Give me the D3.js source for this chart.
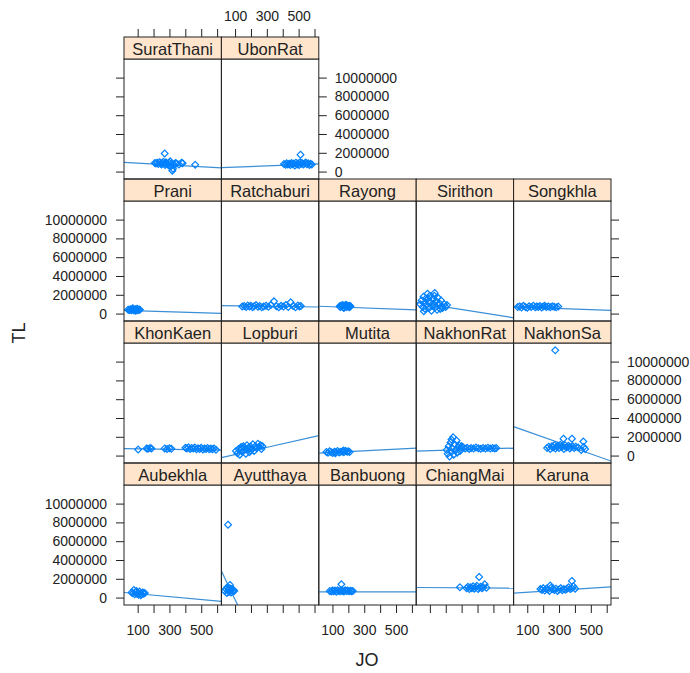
<!DOCTYPE html>
<html><head><meta charset="utf-8">
<script src="https://cdn.jsdelivr.net/npm/d3@7"></script>
<style>body{margin:0;background:#fff}text{font-family:Arial,"Liberation Sans",sans-serif;fill:#222}</style>
</head><body><svg id="c" width="690" height="673"></svg>
<script>
// Panel order (lattice layout, bottom row first)
const panelNames = ["Aubekhla","Ayutthaya","Banbuong","ChiangMai","Karuna",
  "KhonKaen","Lopburi","Mutita","NakhonRat","NakhonSa",
  "Prani","Ratchaburi","Rayong","Sirithon","Songkhla",
  "SuratThani","UbonRat"];
const xTicks = [100,200,300,400,500,600];
const xTickLabels = ["100","","300","","500",""];
const yTicks = [0,2000000,4000000,6000000,8000000,10000000];
const yTickLabels = ["0","2000000","4000000","6000000","8000000","10000000"];
const xLimits = [14, 627];
const yLimits = [-790000, 11980000];

// [JO, TL] points per panel
const SuratThani = [[208,900000],[215,850000],[222,950000],[230,800000],[238,1000000],[245,870000],[250,760000],[256,920000],[262,1050000],[268,820000],[273,700000],[278,980000],[283,880000],[290,780000],[296,640000],[300,920000],[305,1100000],[310,560000],[316,830000],[318,100000],[322,300000],[330,700000],[338,900000],[345,850000],[360,760000],[376,950000],[383,880000],[462,720000],[270,1920000]];
const UbonRat = [[408,800000],[418,720000],[425,880000],[432,760000],[440,820000],[448,700000],[455,900000],[462,780000],[470,850000],[476,640000],[483,950000],[490,760000],[497,870000],[503,700000],[510,1000000],[516,820000],[522,900000],[530,740000],[538,860000],[545,960000],[552,780000],[560,880000],[568,700000],[575,820000],[583,760000],[512,1800000]];
const Prani = [[40,420000],[48,380000],[55,460000],[60,350000],[66,500000],[72,410000],[78,330000],[84,470000],[90,400000],[96,520000],[102,360000],[108,440000],[114,400000],[70,560000],[88,300000]];
const Ratchaburi = [[145,760000],[158,800000],[170,700000],[180,850000],[190,740000],[200,820000],[210,680000],[220,780000],[232,900000],[244,720000],[255,800000],[268,660000],[280,760000],[295,840000],[310,720000],[325,900000],[345,1300000],[360,780000],[375,680000],[390,820000],[405,740000],[420,900000],[435,700000],[450,1200000],[465,800000],[480,660000],[495,860000],[505,740000],[514,800000]];
const Rayong = [[145,780000],[150,700000],[155,860000],[160,740000],[165,900000],[170,650000],[175,820000],[180,760000],[185,940000],[190,700000],[195,840000],[200,780000],[205,680000],[210,820000],[213,760000],[172,600000],[188,880000]];
const Sirithon = [[40,1000000],[48,1400000],[55,700000],[60,1800000],[65,1100000],[70,500000],[75,1600000],[80,900000],[85,2100000],[90,1300000],[95,600000],[100,1900000],[105,1200000],[110,300000],[115,800000],[120,1500000],[125,1000000],[130,2200000],[135,700000],[140,1300000],[145,400000],[150,1700000],[155,900000],[160,1100000],[165,500000],[170,1400000],[175,800000],[180,600000],[190,1000000],[200,700000],[208,900000],[62,250000],[88,1600000],[128,1900000]];
const Songkhla = [[40,700000],[52,760000],[64,640000],[76,820000],[88,700000],[100,620000],[112,780000],[125,700000],[138,840000],[150,660000],[160,760000],[170,700000],[180,800000],[190,640000],[200,740000],[210,820000],[220,700000],[232,760000],[245,680000],[258,780000],[270,720000],[282,660000],[295,740000]];
const KhonKaen = [[103,650000],[156,760000],[165,720000],[178,800000],[187,740000],[270,760000],[285,700000],[300,780000],[312,720000],[401,820000],[410,760000],[420,880000],[430,700000],[440,800000],[450,740000],[460,860000],[470,680000],[480,780000],[490,700000],[500,820000],[510,640000],[520,760000],[530,700000],[540,800000],[550,660000],[560,740000],[570,680000],[580,760000],[593,620000]];
const Lopburi = [[106,500000],[115,250000],[122,700000],[130,100000],[138,900000],[145,400000],[152,1000000],[160,600000],[168,200000],[175,1100000],[182,800000],[190,350000],[198,950000],[205,700000],[212,1200000],[220,500000],[228,1000000],[236,800000],[244,1260000],[252,900000],[260,1100000],[266,700000],[272,1000000],[140,700000],[200,550000],[158,850000]];
const Mutita = [[62,380000],[72,300000],[82,450000],[92,350000],[102,280000],[112,420000],[122,360000],[132,480000],[142,320000],[152,400000],[162,440000],[172,360000],[182,500000],[192,400000],[200,460000],[208,380000],[118,250000],[170,540000]];
const NakhonRat = [[206,600000],[212,200000],[218,1000000],[224,-100000],[230,1400000],[236,400000],[240,800000],[246,1950000],[250,100000],[256,1200000],[262,600000],[268,1600000],[272,300000],[278,900000],[284,1100000],[290,500000],[296,800000],[300,1000000],[310,850000],[322,750000],[335,820000],[348,700000],[360,800000],[375,760000],[390,850000],[405,780000],[420,720000],[435,800000],[450,760000],[465,840000],[480,740000],[495,800000],[508,760000],[518,800000],[236,1700000]];
const NakhonSa = [[225,800000],[235,950000],[245,700000],[255,1000000],[262,850000],[270,1100000],[278,750000],[285,950000],[292,1050000],[300,800000],[308,1150000],[315,900000],[322,1000000],[330,700000],[338,1100000],[345,850000],[352,950000],[360,1050000],[368,750000],[375,900000],[385,1000000],[395,800000],[405,950000],[420,850000],[440,600000],[455,900000],[464,700000],[328,1800000],[381,1800000],[453,1500000],[276,11200000]];
const Aubekhla = [[62,550000],[70,450000],[76,800000],[82,350000],[88,600000],[95,400000],[100,500000],[106,300000],[112,650000],[118,450000],[125,350000],[132,550000],[138,400000],[145,480000],[92,700000],[120,250000]];
const Ayutthaya = [[35,700000],[42,900000],[48,500000],[52,1100000],[58,800000],[62,600000],[66,1000000],[70,750000],[75,550000],[80,900000],[85,650000],[90,800000],[95,700000],[68,1350000],[56,7760000]];
const Banbuong = [[83,700000],[92,640000],[100,760000],[108,680000],[116,740000],[124,620000],[132,780000],[140,700000],[148,660000],[156,760000],[164,700000],[172,640000],[180,780000],[188,700000],[196,740000],[204,660000],[212,720000],[220,680000],[228,700000],[156,1420000]];
const ChiangMai = [[289,1100000],[331,1000000],[340,1150000],[348,900000],[356,1100000],[364,1000000],[372,1200000],[380,950000],[388,1100000],[396,1250000],[404,900000],[412,1050000],[420,1150000],[428,1000000],[436,1100000],[445,1420000],[456,1050000],[410,2200000]];
const Karuna = [[183,900000],[192,800000],[200,1000000],[210,750000],[220,950000],[230,850000],[240,700000],[250,1050000],[260,900000],[270,800000],[280,950000],[290,700000],[300,850000],[310,1000000],[320,780000],[330,900000],[340,820000],[350,950000],[360,1100000],[370,900000],[380,1000000],[390,1200000],[401,950000],[245,1280000],[381,1770000]];

// Fitted regression line: TL at JO = xLimits[0] and at JO = xLimits[1]
const fitLeft  = [540000, 2830000, 610000, 1070000, 470000, 730000, -220000, 270000, 480000, 3080000, 350000, 840000, 780000, 1200000, 720000, 970000, 420000];
const fitRight = [-410000, -18900000, 610000, 1000000, 1140000, 580000, 2130000, 800000, 800000, -580000, 20000, 700000, 400000, -450000, 350000, 400000, 820000];

const pointsByPanel = {Aubekhla,Ayutthaya,Banbuong,ChiangMai,Karuna,KhonKaen,Lopburi,Mutita,NakhonRat,NakhonSa,Prani,Ratchaburi,Rayong,Sirithon,Songkhla,SuratThani,UbonRat};

const svg = d3.select("#c");
svg.append("rect").attr("width",690).attr("height",673).attr("fill","#fff");
const ncol = 5, left = 124, pw = 97.4, top0 = 37, rowH = 142, stripH = 22, ph = 120;
const x = d3.scaleLinear().domain(xLimits).range([0, pw]);
const y = d3.scaleLinear().domain(yLimits).range([ph, 0]);
const col = "#0080ff", lineCol = "#3a8fd6", frame = "#222";
const diamond = "M0,-3.4L3.4,0L0,3.4L-3.4,0Z";

panelNames.forEach((name, i) => {
  const c = i % ncol, rFromBottom = Math.floor(i / ncol);
  const row = 3 - rFromBottom;
  const px = left + c * pw, sy = top0 + row * rowH, py = sy + stripH;
  const g = svg.append("g").attr("transform", `translate(${px},${py})`);
  const cid = "clip" + i;
  svg.append("clipPath").attr("id", cid).append("rect").attr("width", pw).attr("height", ph);
  const inner = g.append("g").attr("clip-path", `url(#${cid})`);
  inner.append("line")
    .attr("x1", x(xLimits[0])).attr("y1", y(fitLeft[i]))
    .attr("x2", x(xLimits[1])).attr("y2", y(fitRight[i]))
    .attr("stroke", lineCol).attr("stroke-width", 1.2);
  inner.selectAll("path.pt").data(pointsByPanel[name]).join("path")
    .attr("class","pt").attr("d", diamond)
    .attr("transform", d => `translate(${x(d[0])},${y(d[1])})`)
    .attr("fill", "none").attr("stroke", col).attr("stroke-width", 1.2);
  g.append("rect").attr("width", pw).attr("height", ph).attr("fill","none").attr("stroke", frame).attr("stroke-width",1);
  // strip
  svg.append("rect").attr("x", px).attr("y", sy).attr("width", pw).attr("height", stripH)
    .attr("fill", "#ffe5cc").attr("stroke", frame).attr("stroke-width",1);
  svg.append("text").attr("x", px + pw/2).attr("y", sy + 17.5).attr("text-anchor","middle")
    .attr("font-size", "16.5px").text(name);

  // left axis
  if (c === 0) {
    const ax = d3.axisLeft(y).tickValues(yTicks).tickSize(8).tickPadding(9)
      .tickFormat((d, k) => (rFromBottom % 2 === 0) ? yTickLabels[k] : "");
    const a = svg.append("g").attr("transform", `translate(${px},${py})`).call(ax);
    a.select(".domain").remove();
  }
  // right axis
  const lastInRow = (c === ncol - 1) || (i === panelNames.length - 1);
  if (lastInRow) {
    const ax = d3.axisRight(y).tickValues(yTicks).tickSize(8).tickPadding(8)
      .tickFormat((d, k) => (rFromBottom % 2 === 1) ? yTickLabels[k] : "");
    const a = svg.append("g").attr("transform", `translate(${px + pw},${py})`).call(ax);
    a.select(".domain").remove();
  }
  // bottom axis
  if (rFromBottom === 0) {
    const ax = d3.axisBottom(x).tickValues(xTicks).tickSize(8).tickPadding(12)
      .tickFormat((d, k) => (c % 2 === 0) ? xTickLabels[k] : "");
    const a = svg.append("g").attr("transform", `translate(${px},${py + ph})`).call(ax);
    a.select(".domain").remove();
  }
  // top axis
  if (rFromBottom === 3) {
    const ax = d3.axisTop(x).tickValues(xTicks).tickSize(8).tickPadding(8)
      .tickFormat((d, k) => (c % 2 === 1) ? xTickLabels[k] : "");
    const a = svg.append("g").attr("transform", `translate(${px},${sy})`).call(ax);
    a.select(".domain").remove();
  }
});
svg.selectAll(".tick line").attr("stroke", frame);
svg.selectAll(".tick text").attr("font-size", "14px").attr("fill", "#222")
  .style("font-family", "Arial, 'Liberation Sans', sans-serif");

svg.append("text").attr("transform", "translate(25,333) rotate(-90)").attr("text-anchor","middle")
  .attr("font-size","18px").text("TL");
svg.append("text").attr("x", 367).attr("y", 666).attr("text-anchor","middle")
  .attr("font-size","18px").text("JO");
</script></body></html>
